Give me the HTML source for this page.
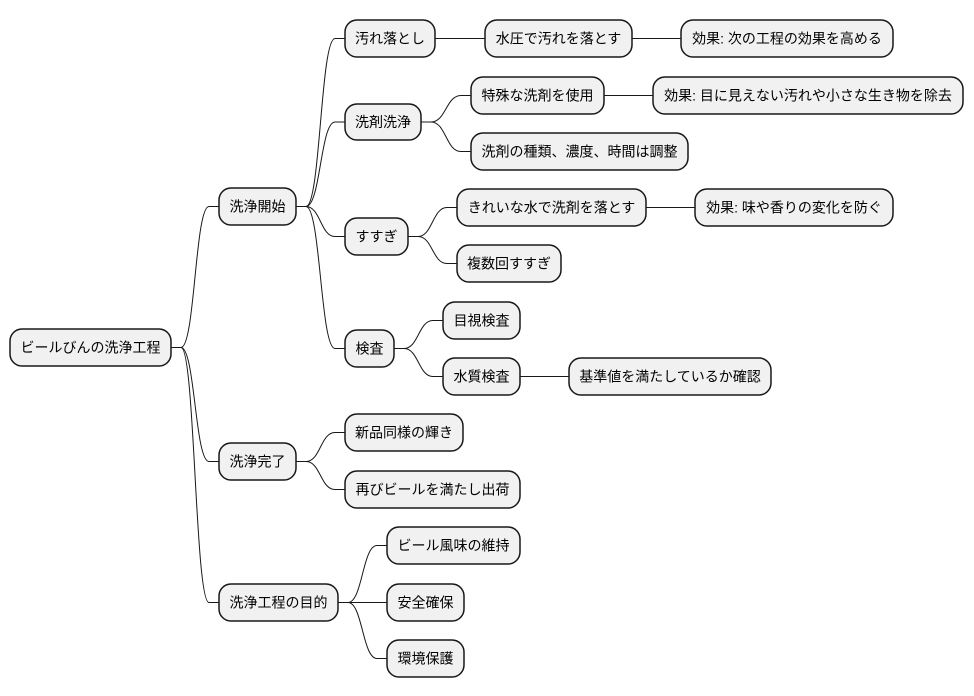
<!DOCTYPE html>
<html><head><meta charset="utf-8"><style>
html,body{margin:0;padding:0;background:#fff;width:974px;height:696px;overflow:hidden}
svg text{font-family:"Liberation Sans","Noto Sans CJK JP",sans-serif;font-size:14px;fill:#000}
</style></head><body>
<svg width="974" height="696" xmlns="http://www.w3.org/2000/svg">
<g id="lines" fill="none" stroke="#181818" stroke-width="1"></g>
<g id="boxes"></g>
</svg>
<script>
const N={
root:[10,329,171,366,"ビールびんの洗浄工程"],
a:[219,188,296,225,"洗浄開始"],
a1:[345,20,435,57,"汚れ落とし"],
a1a:[485,20,632,57,"水圧で汚れを落とす"],
a1b:[681,20,893,57,"効果: 次の工程の効果を高める"],
a2:[345,104,421,140,"洗剤洗浄"],
a2a:[471,77,604,114,"特殊な洗剤を使用"],
a2b:[653,77,963,114,"効果: 目に見えない汚れや小さな生き物を除去"],
a2c:[471,133,688,170,"洗剤の種類、濃度、時間は調整"],
a3:[345,218,408,255,"すすぎ"],
a3a:[457,189,646,226,"きれいな水で洗剤を落とす"],
a3b:[695,189,893,226,"効果: 味や香りの変化を防ぐ"],
a3c:[457,245,561,282,"複数回すすぎ"],
a4:[345,330,394,367,"検査"],
a4a:[443,302,520,339,"目視検査"],
a4b:[443,358,520,395,"水質検査"],
a4c:[569,358,771,395,"基準値を満たしているか確認"],
b:[219,443,296,480,"洗浄完了"],
b1:[345,414,463,451,"新品同様の輝き"],
b2:[345,471,520,508,"再びビールを満たし出荷"],
c:[219,584,338,621,"洗浄工程の目的"],
c1:[387,527,520,564,"ビール風味の維持"],
c2:[387,584,464,621,"安全確保"],
c3:[387,640,464,677,"環境保護"]};
const E=[["root","a"],["root","b"],["root","c"],["a","a1"],["a","a2"],["a","a3"],["a","a4"],["a1","a1a"],["a1a","a1b"],["a2","a2a"],["a2a","a2b"],["a2","a2c"],["a3","a3a"],["a3a","a3b"],["a3","a3c"],["a4","a4a"],["a4","a4b"],["a4b","a4c"],["b","b1"],["b","b2"],["c","c1"],["c","c2"],["c","c3"]];
const ns="http://www.w3.org/2000/svg";
const L=document.getElementById("lines"),B=document.getElementById("boxes");
for(const [p,c] of E){const P=N[p],C=N[c];const x1=P[2],y1=(P[1]+P[3])/2,x2=C[0],y2=(C[1]+C[3])/2;
const a=x1+10,b=x2-10,m=(a+b)/2;
const e=document.createElementNS(ns,"path");
e.setAttribute("d",`M${x1},${y1} H${a} C${m},${y1} ${m},${y2} ${b},${y2} H${x2}`);L.appendChild(e);}
for(const k in N){const [x1,y1,x2,y2,t]=N[k];
const r=document.createElementNS(ns,"rect");
r.setAttribute("x",x1);r.setAttribute("y",y1);r.setAttribute("width",x2-x1);r.setAttribute("height",y2-y1);
r.setAttribute("rx",12);r.setAttribute("fill","#f1f1f1");r.setAttribute("stroke","#181818");r.setAttribute("stroke-width","1.5");B.appendChild(r);
const s=document.createElementNS(ns,"text");s.setAttribute("x",(x1+x2)/2);s.setAttribute("y",(y1+y2)/2+5);s.setAttribute("text-anchor","middle");s.textContent=t;B.appendChild(s);}
</script>
</body></html>
